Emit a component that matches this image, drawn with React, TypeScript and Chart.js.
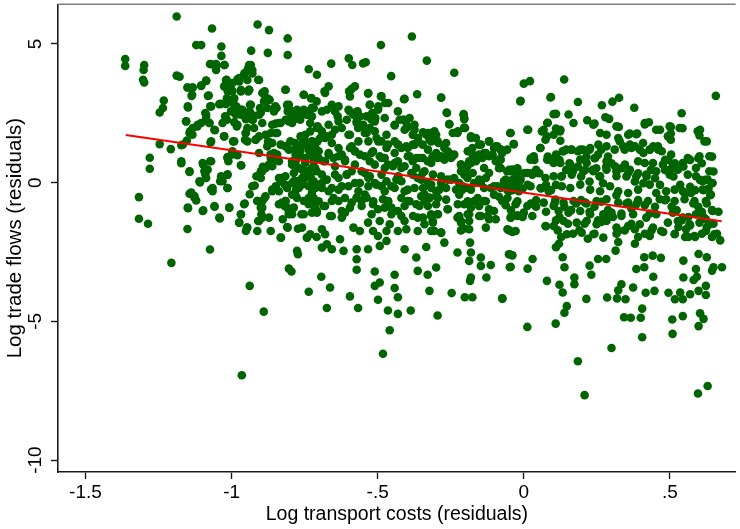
import React, { useEffect, useRef } from "react";
import { Chart, registerables } from "chart.js";

Chart.register(...registerables);

const X_TICKS = [-1.5, -1, -0.5, 0, 0.5];
const X_TICK_LABELS = ["-1.5", "-1", "-.5", "0", ".5"];
const Y_TICKS = [-10, -5, 0, 5];
const Y_TICK_LABELS = ["-10", "-5", "0", "5"];
const X_RANGE = [-1.594, 0.725];
const Y_RANGE = [-10.43, 6.43];
const X_TITLE = "Log transport costs (residuals)";
const Y_TITLE = "Log trade flows (residuals)";

// fitted line end points
const FIT_X = [-1.362, 0.677];
const FIT_Y = [1.72, -1.39];

// observations, west part (x < -0.7)
const WEST: [number, number][] = [
  [-1.188,5.99],[-1.067,5.56],[-1.121,4.96],[-1.104,4.96],[-1.035,4.91],[-1.364,4.46],[-1.364,4.21],[-1.299,4.24],
  [-1.301,4.06],[-1.303,3.71],[-1.299,3.61],[-1.188,3.86],[-1.035,4.57],[-1.074,4.28],[-1.053,4.28],[-1.053,4.06],
  [-1.024,4.24],[-0.933,4.76],[-0.911,5.70],[-0.872,5.50],[-0.808,5.20],[-0.808,4.60],[-0.876,4.68],[-0.736,4.09],
  [-1.232,2.96],[-1.235,2.69],[-1.246,2.53],[-1.246,1.39],[-1.208,1.21],[-1.280,0.90],[-1.280,0.50],[-1.317,-0.52],
  [-1.317,-1.30],[-1.286,-1.48],[-1.206,-2.89],[-1.074,-2.41],[-1.151,-1.67],[-0.938,-3.72],[-0.890,-4.65],[-0.736,-3.93],
  [-0.804,-3.10],[-0.795,-3.20],[-0.776,-2.46],[-0.773,-2.58],[-0.832,-1.98],[-0.742,-1.98],[-0.731,-1.86],[-0.965,-6.94],
  [-1.151,3.43],[-1.134,3.43],[-1.137,3.13],[-1.104,3.49],[-1.087,3.68],[-1.149,2.71],[-1.156,2.21],[-1.142,1.85],
  [-1.134,1.73],[-1.117,2.03],[-1.104,2.15],[-1.090,2.51],[-1.087,2.33],[-1.076,2.15],[-1.073,2.75],[-1.081,3.13],
  [-1.172,1.35],[-1.153,1.52],[-1.172,0.70],[-1.144,0.39],[-1.097,0.65],[-1.082,0.47],[-1.090,0.29],[-1.108,0.01],
  [-1.070,-0.24],[-1.065,-0.31],[-1.073,0.77],[-1.144,-0.40],[-1.127,-0.48],[-1.121,-0.64],[-1.149,-0.92],[-1.097,-1.00],
  [-1.058,-0.87],[-1.040,-1.29],[-1.008,-0.90],[-1.072,1.45],[-1.057,1.89],[-1.026,1.67],[-1.036,2.84],[-1.019,2.84],
  [-1.016,3.04],[-1.017,3.71],[-1.024,3.47],[-1.013,3.29],[-1.019,3.55],[-0.997,3.31],[-0.991,3.04],[-0.995,2.89],
  [-0.983,2.74],[-0.968,2.63],[-0.980,3.73],[-0.974,3.65],[-0.968,3.35],[-0.943,3.29],[-0.940,3.35],[-0.956,3.94],
  [-0.946,4.04],[-0.934,4.24],[-0.943,4.12],[-0.929,3.94],[-0.909,3.71],[-1.022,2.39],[-1.016,2.27],[-1.002,2.57],
  [-0.985,2.45],[-0.991,2.18],[-0.982,2.03],[-0.968,2.45],[-0.951,2.29],[-0.946,1.97],[-0.951,1.79],[-0.954,1.55],
  [-0.923,1.97],[-0.917,1.55],[-0.906,1.67],[-0.937,2.81],[-0.938,2.57],[-0.927,2.27],[-0.923,2.41],[-0.903,2.69],
  [-0.900,2.53],[-0.889,2.93],[-0.878,3.04],[-0.870,2.99],[-0.887,3.29],[-0.995,1.49],[-0.997,1.13],[-1.000,1.01],
  [-0.980,0.99],[-1.014,0.92],[-1.011,0.77],[-0.967,0.62],[-1.014,-0.19],[-1.039,0.05],[-1.033,0.09],[-1.014,0.29],
  [-0.921,-0.10],[-0.938,-0.42],[-0.955,-0.75],[-0.968,-1.14],[-0.974,-1.44],[-0.951,-1.74],[-0.948,-1.62],[-0.912,-1.74],
  [-0.909,-1.38],[-0.898,-1.14],[-0.895,-1.26],[-0.887,-0.55],[-0.866,-1.74],[-0.831,-1.98],[-0.912,-0.66],[-0.900,-0.90],
  [-0.895,-0.66],[-0.915,0.23],[-0.900,0.41],[-0.893,0.57],[-0.883,0.53],[-0.872,0.65],[-0.861,-0.31],[-0.855,-0.24],
  [-0.849,-0.13],[-0.832,0.05],[-0.827,0.17],[-0.819,-0.06],[-0.810,-0.19],[-0.815,-0.66],[-0.829,-0.73],[-0.819,-0.84],
  [-0.810,-0.90],[-0.825,-1.32],[-0.804,-1.14],[-0.787,0.05],[-0.776,0.05],[-0.779,-0.24],[-0.770,-0.19],[-0.759,0.17],
  [-0.757,0.05],[-0.793,0.65],[-0.781,0.77],[-0.770,0.53],[-0.759,0.47],[-0.866,0.89],[-0.861,0.77],[-0.849,0.89],
  [-0.844,1.01],[-0.855,1.07],[-0.878,1.31],[-0.875,1.49],[-0.866,1.79],[-0.849,1.79],[-0.832,1.37],[-0.815,1.31],
  [-0.804,1.19],[-0.861,2.09],[-0.849,2.13],[-0.832,2.15],[-0.815,2.27],[-0.798,2.33],[-0.808,2.57],[-0.808,2.75],
  [-0.793,2.57],[-0.781,2.51],[-0.815,3.35],[-0.846,2.69],[-0.852,2.71],[-0.770,2.39],[-0.753,2.51],[-0.742,2.45],
  [-0.736,2.57],[-0.725,2.69],[-0.725,2.39],[-0.753,3.17],[-0.728,3.04],[-0.764,1.67],[-0.753,1.55],[-0.759,1.37],
  [-0.742,1.37],[-0.725,1.49],[-0.713,1.25],[-0.764,1.25],[-0.781,1.01],[-0.770,1.01],[-0.747,0.89],[-0.730,1.01],
  [-0.719,0.77],[-0.713,0.95],[-0.725,0.53],[-0.742,0.41],[-0.730,0.23],[-0.719,0.05],[-0.713,-0.19],[-0.725,-0.37],
  [-0.719,-0.55],[-0.736,-0.78],[-0.725,-1.08],[-0.708,-1.02],[-0.776,-0.55],[-0.753,-0.66],[-0.709,0.41],[-0.706,1.49],
  [-0.706,2.03],[-0.709,2.93],[-0.773,-1.66],[-0.808,-1.62],[-0.709,-1.96],[-0.708,3.89],
];

// extra observations read in the dense west core (-1.18 < x < -0.77)
const WEST_CORE: [number, number][] = [
  [-1.070,4.27],[-1.053,4.18],[-1.025,4.24],[-0.940,4.24],[-0.929,4.06],[-0.957,3.88],[-1.178,3.82],[-1.150,3.43],
  [-1.133,3.43],[-1.104,3.50],[-1.087,3.67],[-1.019,3.70],[-0.997,3.59],[-0.974,3.77],[-0.946,3.70],[-0.906,3.70],
  [-0.940,3.35],[-0.968,3.29],[-1.002,3.35],[-1.025,3.47],[-1.135,3.17],[-1.078,3.14],[-1.150,2.75],[-1.070,2.75],
  [-1.042,2.83],[-1.019,2.87],[-0.991,2.81],[-0.963,2.63],[-0.934,2.81],[-0.895,3.23],[-0.884,3.05],[-0.872,2.99],
  [-0.816,3.35],[-0.850,2.75],[-0.810,2.81],[-0.776,2.63],[-1.155,2.21],[-1.133,1.97],[-1.116,2.09],[-1.087,2.45],
  [-1.076,2.15],[-1.059,1.91],[-1.031,2.15],[-0.997,2.57],[-0.980,2.09],[-0.952,2.39],[-0.929,2.27],[-0.906,2.45],
  [-0.895,2.15],[-0.878,2.69],[-0.855,2.57],[-0.838,2.15],[-0.804,2.21],[-0.787,2.27],[-0.770,2.45],[-1.144,1.79],
  [-1.167,1.37],[-1.070,1.49],[-1.025,1.67],[-0.991,1.49],[-0.952,1.79],[-0.946,1.49],[-0.918,1.55],[-0.884,1.73],
  [-0.844,1.79],[-0.861,1.43],[-0.816,1.31],[-0.782,1.43],[-1.172,0.77],[-1.099,0.71],[-1.070,0.77],[-1.014,0.89],
  [-0.968,0.63],[-0.906,1.07],[-0.867,1.01],[-0.838,0.77],[-0.793,0.77],[-0.776,0.89],[-1.144,0.41],[-1.093,0.41],
  [-1.087,0.17],[-1.110,0.05],[-1.036,0.23],[-1.014,0.29],[-1.031,0.05],[-0.895,0.41],[-0.861,0.59],[-0.900,0.17],
  [-0.838,0.17],[-0.816,0.23],[-0.782,0.05],[-1.138,-0.36],[-1.127,-0.54],[-1.065,-0.19],[-1.014,-0.19],[-0.929,-0.13],
  [-0.884,-0.49],[-0.861,-0.25],[-0.838,-0.31],[-0.816,-0.66],[-0.793,-0.43],[-0.787,-0.90],[-1.150,-0.90],[-1.099,-1.02],
  [-1.059,-0.84],[-1.008,-0.90],[-0.968,-1.14],[-0.957,-0.78],[-0.912,-0.66],[-0.895,-0.90],[-0.838,-0.78],[-0.804,-1.08],
  [-0.974,-1.44],[-1.042,-1.26],[-0.946,-1.62],[-0.906,-1.38],[-0.872,-1.26],[-0.810,-1.60],
];

// observations, centre part (-0.77 < x < 0)
const CENTRE: [number, number][] = [
  [-0.383,5.27],[-0.489,4.96],[-0.599,4.48],[-0.587,4.24],[-0.550,4.30],[-0.541,4.34],[-0.659,4.29],[-0.454,3.84],
  [-0.332,4.40],[-0.238,3.96],[-0.682,3.29],[-0.668,3.47],[-0.598,3.29],[-0.589,3.38],[-0.578,3.47],[-0.533,3.21],
  [-0.527,2.81],[-0.489,3.11],[-0.474,2.87],[-0.410,3.01],[-0.365,3.19],[-0.283,3.06],[-0.499,2.63],[-0.508,2.33],
  [-0.521,2.27],[-0.431,2.57],[-0.410,2.27],[-0.408,1.91],[-0.264,2.53],[-0.255,2.11],[-0.206,2.45],[-0.204,2.29],
  [-0.201,1.97],
  [-0.767,2.39],[-0.753,2.57],[-0.742,2.45],[-0.725,2.69],[-0.674,2.63],[-0.646,2.57],[-0.637,2.39],[-0.600,2.63],
  [-0.583,2.45],[-0.569,2.57],[-0.538,2.39],[-0.519,2.51],[-0.499,2.66],[-0.442,2.06],[-0.425,2.27],[-0.404,2.21],
  [-0.397,2.03],[-0.374,1.91],[-0.380,1.73],[-0.329,1.79],[-0.306,1.85],[-0.312,1.61],
  [-0.748,1.73],[-0.753,1.49],[-0.731,1.85],[-0.708,1.97],[-0.691,1.85],[-0.680,1.61],[-0.657,1.73],[-0.646,1.91],
  [-0.623,1.97],[-0.600,1.73],[-0.589,1.31],[-0.572,2.21],[-0.567,1.97],[-0.550,2.09],[-0.538,1.79],[-0.527,1.97],
  [-0.510,1.85],[-0.504,1.61],[-0.487,1.49],[-0.470,1.73],[-0.465,1.37],[-0.442,1.49],[-0.431,1.37],[-0.419,1.25],
  [-0.397,1.25],[-0.380,1.37],[-0.363,1.49],[-0.346,1.37],[-0.334,1.73],[-0.323,1.55],[-0.295,1.49],[-0.272,1.25],
  [-0.261,1.13],[-0.238,1.01],[-0.227,1.79],[-0.204,1.97],[-0.181,1.61],[-0.176,1.25],[-0.153,1.37],[-0.136,1.07],
  [-0.119,1.49],[-0.102,1.25],[-0.091,1.31],[-0.074,1.07],[-0.057,1.19],
  [-0.765,1.13],[-0.748,0.89],[-0.731,1.01],[-0.714,1.25],[-0.702,0.89],[-0.685,0.77],[-0.668,1.07],[-0.651,0.89],
  [-0.634,0.95],[-0.612,0.77],[-0.595,1.25],[-0.578,1.13],[-0.561,1.01],[-0.544,0.95],[-0.527,0.77],[-0.516,1.13],
  [-0.493,0.95],[-0.476,0.89],[-0.465,0.65],[-0.448,0.59],[-0.431,0.77],[-0.419,0.53],[-0.397,0.95],[-0.380,0.77],
  [-0.368,0.89],[-0.346,0.89],[-0.329,0.77],[-0.312,0.95],[-0.295,0.89],[-0.278,0.89],[-0.255,1.01],[-0.244,0.95],
  [-0.215,0.65],[-0.193,0.59],[-0.181,0.71],[-0.159,0.95],[-0.142,0.89],[-0.119,0.95],[-0.096,0.77],[-0.079,0.83],
  [-0.057,0.41],[-0.040,0.47],[-0.028,0.29],[-0.204,0.29],[-0.193,0.17],
  [-0.765,0.05],[-0.748,0.17],[-0.736,-0.13],[-0.725,-0.01],[-0.708,-0.07],[-0.691,-0.19],[-0.674,0.11],[-0.657,-0.19],
  [-0.634,0.17],[-0.623,-0.13],[-0.606,0.29],[-0.589,0.41],[-0.578,-0.01],[-0.561,-0.01],[-0.544,0.35],[-0.527,0.23],
  [-0.510,-0.01],[-0.487,-0.13],[-0.470,0.05],[-0.453,-0.13],[-0.436,0.11],[-0.419,0.05],[-0.397,-0.25],[-0.380,0.29],
  [-0.363,0.17],[-0.346,0.35],[-0.329,-0.01],[-0.317,-0.19],[-0.300,-0.31],[-0.283,-0.01],[-0.261,0.11],[-0.238,0.17],
  [-0.221,-0.01],[-0.210,-0.25],[-0.181,-0.25],[-0.164,-0.01],[-0.136,-0.19],[-0.113,-0.19],[-0.091,-0.13],[-0.068,0.05],
  [-0.045,-0.13],[-0.028,-0.01],[-0.340,-0.42],[-0.323,-0.54],[-0.300,-0.48],
  [-0.748,-0.66],[-0.725,-0.78],[-0.708,-1.08],[-0.685,-0.84],[-0.663,-1.20],[-0.657,-0.66],[-0.634,-0.66],[-0.612,-1.08],
  [-0.589,-0.72],[-0.572,-0.54],[-0.555,-0.66],[-0.538,-0.54],[-0.516,-0.78],[-0.499,-0.96],[-0.493,-1.38],[-0.482,-0.60],
  [-0.465,-0.66],[-0.453,-0.90],[-0.431,-1.02],[-0.419,-1.20],[-0.408,-1.38],[-0.397,-0.66],[-0.368,-0.78],[-0.363,-1.26],
  [-0.340,-0.66],[-0.317,-1.14],[-0.312,-1.38],[-0.295,-1.14],[-0.261,-0.96],[-0.227,-1.26],[-0.215,-1.38],[-0.204,-0.78],
  [-0.187,-1.14],[-0.170,-0.66],[-0.147,-1.20],[-0.136,-0.66],[-0.119,-1.32],[-0.102,-1.02],[-0.074,-0.66],[-0.045,-1.26],
  [-0.028,-0.78],[-0.761,-1.14],[-0.759,-1.62],[-0.691,-1.68],[-0.680,-1.86],[-0.623,-1.26],[-0.583,-1.62],[-0.561,-1.74],
  [-0.533,-1.44],[-0.516,-1.74],[-0.499,-1.92],[-0.470,-1.74],[-0.459,-1.50],[-0.431,-1.74],[-0.402,-1.68],[-0.363,-1.74],
  [-0.306,-1.74],[-0.283,-1.80],
  [-0.742,-1.98],[-0.691,-2.34],[-0.674,-2.22],[-0.657,-2.40],[-0.629,-2.04],[-0.617,-2.46],[-0.572,-2.40],[-0.533,-2.40],
  [-0.493,-2.28],[-0.470,-2.10],[-0.408,-2.40],[-0.368,-2.70],[-0.334,-2.32],[-0.272,-2.16],[-0.227,-2.52],[-0.184,-2.16],
  [-0.187,-2.82],[-0.147,-2.70],[-0.181,-2.52],[-0.113,-2.97],[-0.147,-3.00],[-0.051,-2.58],[-0.045,-3.03],[-0.572,-2.76],
  [-0.572,-3.14],[-0.510,-3.20],[-0.442,-3.32],[-0.510,-3.72],[-0.493,-3.60],[-0.442,-3.80],[-0.431,-4.13],[-0.499,-4.22],
  [-0.465,-4.61],[-0.431,-4.73],[-0.387,-4.61],[-0.459,-5.32],[-0.482,-6.17],[-0.323,-3.90],[-0.329,-3.32],[-0.300,-3.06],
  [-0.295,-4.79],[-0.247,-3.98],[-0.202,-4.13],[-0.176,-4.13],[-0.184,-3.54],[-0.181,-3.42],[-0.128,-3.42],[-0.074,-4.17],
  [-0.595,-4.10],[-0.567,-4.52],[-0.674,-4.52],[-0.663,-3.78],[-0.693,-3.39],[-0.363,-3.18],
];

// extra observations read in the dense centre-left core (-0.81 < x < -0.36)
const CENTRE_CORE: [number, number][] = [
  [-0.753,3.17],[-0.727,3.05],[-0.680,3.23],[-0.595,3.11],[-0.532,3.23],[-0.487,3.11],[-0.408,3.02],[-0.804,2.81],
  [-0.782,2.45],[-0.753,2.63],[-0.719,2.69],[-0.691,2.57],[-0.657,2.81],[-0.634,2.75],[-0.595,2.57],[-0.561,2.39],
  [-0.527,2.81],[-0.498,2.75],[-0.464,2.87],[-0.413,2.27],[-0.391,2.33],[-0.374,2.09],[-0.793,2.15],[-0.765,2.27],
  [-0.731,2.15],[-0.702,1.97],[-0.668,2.09],[-0.634,2.21],[-0.606,2.27],[-0.572,2.15],[-0.544,1.97],[-0.510,2.21],
  [-0.476,2.33],[-0.442,2.09],[-0.402,1.97],[-0.379,1.73],[-0.544,1.79],[-0.799,1.49],[-0.782,1.19],[-0.753,1.61],
  [-0.725,1.49],[-0.697,1.61],[-0.674,1.67],[-0.657,1.43],[-0.634,1.25],[-0.595,1.73],[-0.566,1.49],[-0.532,1.49],
  [-0.498,1.49],[-0.470,1.25],[-0.430,1.37],[-0.402,1.31],[-0.374,1.37],[-0.736,1.19],[-0.702,1.13],[-0.668,1.01],
  [-0.623,1.01],[-0.578,1.13],[-0.521,1.07],[-0.487,0.89],[-0.442,1.07],[-0.391,0.95],[-0.782,0.65],[-0.748,0.71],
  [-0.714,0.53],[-0.680,0.77],[-0.646,0.59],[-0.612,0.83],[-0.578,0.65],[-0.555,0.41],[-0.510,0.65],[-0.476,0.53],
  [-0.442,0.71],[-0.408,0.59],[-0.368,0.53],[-0.787,0.35],[-0.736,0.23],[-0.691,0.29],[-0.646,0.29],[-0.606,0.29],
  [-0.532,0.17],[-0.487,0.29],[-0.430,0.23],[-0.385,0.35],[-0.793,-0.01],[-0.759,-0.07],[-0.725,-0.19],[-0.691,-0.01],
  [-0.668,-0.31],[-0.634,-0.25],[-0.600,-0.13],[-0.566,-0.31],[-0.532,-0.13],[-0.504,-0.07],[-0.476,-0.31],[-0.442,-0.19],
  [-0.408,-0.31],[-0.374,-0.19],[-0.782,-0.43],[-0.736,-0.55],[-0.702,-0.67],[-0.651,-0.55],[-0.612,-0.55],[-0.572,-0.55],
  [-0.544,-0.43],[-0.515,-0.67],[-0.464,-0.67],[-0.419,-0.55],[-0.391,-0.67],[-0.793,-1.14],[-0.753,-1.14],[-0.714,-0.90],
  [-0.680,-0.84],[-0.657,-1.20],[-0.623,-1.02],[-0.595,-0.90],[-0.555,-0.84],[-0.521,-1.14],[-0.476,-0.90],[-0.453,-1.14],
  [-0.408,-0.84],[-0.379,-1.20],
];

// extra observations read in the centre-right band (-0.36 < x < 0.11)
const MIDDLE_CORE: [number, number][] = [
  [-0.283,3.07],[-0.011,2.95],[0.091,3.07],[-0.263,2.51],[-0.206,2.47],[-0.204,2.33],[-0.255,2.11],[-0.204,1.99],
  [0.102,2.47],[0.080,2.15],[0.012,1.91],[-0.045,1.79],[-0.034,1.39],[-0.345,1.82],[-0.317,1.79],[-0.300,1.73],
  [-0.362,1.61],[-0.317,1.49],[-0.292,1.43],[-0.266,1.43],[-0.243,1.79],[-0.226,1.85],[-0.181,1.67],[-0.164,1.61],
  [-0.147,1.37],[-0.119,1.49],[-0.096,1.31],[-0.079,1.19],[0.062,1.85],[0.074,1.55],[0.057,1.25],[0.102,1.73],
  [-0.328,1.19],[-0.300,1.07],[-0.283,0.95],[-0.255,1.07],[-0.249,0.89],[-0.192,1.13],[-0.175,1.01],[-0.153,1.01],
  [-0.130,1.07],[-0.107,1.01],[-0.357,0.89],[-0.317,0.71],[-0.272,0.83],[-0.215,0.65],[-0.187,0.77],[-0.164,0.77],
  [-0.136,0.53],[-0.085,0.83],[-0.079,0.53],[0.023,0.83],[0.034,0.95],[0.080,0.83],[0.102,0.71],[-0.340,0.41],
  [-0.311,0.29],[-0.283,0.23],[-0.249,0.11],[-0.215,0.41],[-0.198,0.35],[-0.175,0.35],[-0.153,0.11],[-0.130,0.17],
  [-0.119,0.35],[-0.062,0.11],[-0.045,0.41],[-0.022,0.41],[-0.034,0.05],[-0.011,0.11],[0.012,0.35],[0.029,0.29],
  [0.046,0.35],[0.074,0.17],[0.102,0.23],[-0.351,0.11],[-0.345,-0.19],[-0.317,-0.07],[-0.289,-0.25],[-0.266,-0.19],
  [-0.232,-0.25],[-0.209,-0.13],[-0.192,-0.19],[-0.170,-0.01],[-0.147,-0.01],[-0.102,-0.13],[-0.079,-0.19],[-0.051,-0.31],
  [-0.017,-0.31],[0.023,-0.13],[0.057,-0.19],[0.085,-0.31],[0.108,-0.61],[-0.351,-0.49],[-0.323,-0.55],[-0.294,-0.55],
  [-0.266,-0.61],[-0.221,-0.43],[-0.192,-0.67],[-0.158,-0.55],[-0.130,-0.67],[-0.102,-0.43],[-0.056,-0.55],[-0.022,-0.67],
  [0.012,-0.84],[0.040,-0.84],[0.068,-0.72],[0.102,-0.84],[-0.357,-0.84],[-0.328,-0.84],[-0.300,-0.78],[-0.260,-0.96],
  [-0.226,-0.78],[-0.181,-0.90],[-0.153,-0.84],[-0.119,-0.96],[-0.345,-1.26],[-0.317,-1.20],[-0.294,-1.14],[-0.221,-1.20],
  [-0.192,-1.14],[-0.187,-1.38],[-0.153,-1.20],[-0.124,-1.20],[-0.096,-1.32],[-0.045,-1.26],[-0.022,-1.20],[0.000,-1.08],
  [0.029,-1.20],[-0.340,-1.50],[-0.311,-1.44],[-0.215,-1.44],[-0.204,-1.65],[-0.130,-1.62],[-0.056,-1.68],[-0.028,-1.74],
  [0.074,-1.56],[0.102,-1.56],[-0.317,-1.74],[-0.283,-1.80],[-0.215,-1.72],[-0.187,-1.68],
];

// observations, east part (x > -0.09)
const EAST: [number, number][] = [
  [0.000,3.57],[0.021,3.66],[0.138,3.72],[-0.012,2.93],[0.093,3.09],[0.185,2.91],[0.657,3.13],[0.267,2.79],
  [0.303,2.92],[0.326,3.06],[0.378,2.70],[0.540,2.50],[0.110,2.48],[0.153,2.46],[0.217,2.25],[0.242,2.13],
  [0.279,2.36],[0.292,2.30],[0.015,1.91],[-0.047,1.79],[-0.035,1.39],[0.082,2.16],[0.068,1.91],[0.079,1.67],
  [0.110,1.95],[0.124,1.85],[0.125,1.51],[0.325,2.01],[0.363,1.77],[0.388,1.77],[0.414,2.10],[0.428,2.18],
  [0.466,1.91],[0.503,2.01],[0.503,1.77],[0.503,1.55],[0.543,1.96],[0.603,1.91],[0.601,1.70],[0.626,1.49],
  [0.056,1.25],[0.024,0.88],[0.036,0.82],
  [-0.079,1.19],[-0.085,0.52],[-0.050,0.46],[-0.022,0.52],[-0.039,0.10],[-0.016,0.04],[0.001,0.34],[0.013,-0.08],
  [0.024,0.34],[0.042,0.46],[0.053,0.34],[0.082,0.94],[0.093,0.82],[0.110,1.01],[0.122,0.82],[0.133,1.13],
  [0.145,1.19],[0.162,1.19],[0.185,1.13],[0.202,1.19],[0.214,0.94],[0.225,1.19],[0.242,0.88],[0.254,1.01],
  [0.265,1.19],[0.288,0.94],[0.311,1.19],[0.328,1.49],[0.345,1.19],[0.363,1.37],[0.380,1.31],[0.397,1.19],
  [0.409,1.07],[0.431,1.19],[0.443,1.31],[0.460,1.19],[0.472,1.13],[0.483,0.82],[0.495,0.82],[0.517,0.70],
  [0.546,0.58],[0.569,0.82],[0.597,0.88],[0.609,0.70],[0.644,0.94],[0.621,0.10],[0.644,-0.02],[0.649,0.40],
  [-0.067,-0.08],[-0.056,-0.27],[-0.039,-0.27],[-0.022,-0.08],[-0.004,-0.21],[0.042,-0.63],[0.059,-0.21],[0.076,-0.08],
  [0.093,-0.27],[0.110,-0.08],[0.128,0.22],[0.145,0.46],[0.156,0.70],[0.168,0.40],[0.185,0.58],[0.196,0.22],
  [0.210,0.46],[0.225,0.04],[0.236,0.46],[0.248,0.52],[0.259,0.22],[0.271,-0.02],[0.282,0.58],[0.300,0.70],
  [0.317,0.40],[0.334,0.52],[0.351,0.22],[0.363,0.46],[0.380,0.04],[0.391,0.34],[0.409,-0.02],[0.420,0.22],
  [0.435,0.46],[0.449,0.16],[0.466,-0.08],[0.483,0.46],[0.500,0.46],[0.512,0.22],[0.535,-0.08],[0.552,-0.39],
  [0.569,-0.15],[0.586,-0.27],[0.603,0.10],[0.615,-0.27],[0.638,-0.45],[0.632,-0.21],
  [-0.085,-0.51],[-0.062,-0.81],[-0.044,-0.99],[-0.027,-0.75],[-0.022,-1.18],[-0.004,-1.24],[0.024,-0.75],[0.042,-0.87],
  [0.076,-1.05],[0.105,-0.75],[0.122,-1.24],[0.139,-0.87],[0.162,-0.99],[0.179,-0.75],[0.196,-0.63],[0.214,-0.75],
  [0.225,-1.05],[0.242,-0.87],[0.265,-0.69],[0.288,-0.99],[0.305,-1.24],[0.317,-0.45],[0.334,-1.11],[0.351,-0.75],
  [0.368,-0.93],[0.391,-0.63],[0.414,-0.81],[0.431,-1.11],[0.449,-0.87],[0.483,-0.63],[0.506,-0.87],[0.523,-0.99],
  [0.540,-1.36],[0.563,-1.24],[0.580,-0.75],[0.597,-0.87],[0.609,-1.05],[0.626,-0.75],[0.644,-0.99],[0.666,-1.05],
  [0.615,-1.24],
  [-0.050,-1.72],[-0.039,-1.78],[0.076,-1.57],[0.110,-1.36],[0.116,-1.72],[0.128,-1.96],[0.151,-1.48],[0.168,-1.84],
  [0.190,-1.72],[0.208,-1.48],[0.219,-2.02],[0.242,-1.84],[0.254,-1.36],[0.265,-1.42],[0.282,-1.24],[0.317,-1.84],
  [0.323,-2.14],[0.345,-1.72],[0.368,-1.48],[0.380,-2.20],[0.391,-1.96],[0.414,-1.84],[0.437,-1.72],[0.477,-1.78],
  [0.517,-1.84],[0.529,-1.60],[0.552,-1.96],[0.569,-1.54],[0.586,-1.96],[0.609,-1.84],[0.626,-1.60],[0.644,-1.96],
  [0.661,-1.84],[0.672,-2.08],[0.649,-1.48],
  [-0.047,-2.59],[-0.039,-2.62],[-0.048,-3.05],[0.013,-3.10],[0.030,-2.75],[0.079,-3.54],[0.110,-2.33],[0.120,-2.20],
  [0.133,-2.69],[0.139,-3.05],[0.122,-3.68],[0.133,-3.96],[0.173,-3.42],[0.173,-3.66],[0.225,-2.99],[0.231,-3.32],
  [0.254,-2.75],[0.282,-2.75],[0.314,-2.45],[0.334,-3.66],[0.323,-3.88],[0.348,-4.20],[0.374,-3.78],[0.385,-3.11],
  [0.412,-3.05],[0.412,-2.69],[0.441,-2.63],[0.469,-2.71],[0.443,-3.39],[0.417,-3.97],[0.447,-3.90],[0.495,-3.97],
  [0.517,-4.20],[0.535,-3.96],[0.544,-4.20],[0.569,-4.02],[0.589,-3.11],[0.592,-3.39],[0.581,-3.51],[0.598,-3.90],
  [0.623,-3.72],[0.623,-4.05],[0.644,-3.17],[0.649,-3.05],[0.678,-3.05],[0.546,-2.81],[0.546,-3.42],[0.598,-2.57],
  [0.626,-2.69],[0.563,-1.96],
  [0.012,-5.20],[0.109,-5.08],[0.147,-4.45],[0.139,-4.69],[0.214,-4.19],[0.285,-4.14],[0.319,-4.17],[0.343,-4.85],
  [0.366,-4.87],[0.400,-4.87],[0.405,-4.54],[0.405,-5.57],[0.300,-5.96],[0.185,-6.44],[0.208,-7.66],[0.509,-5.45],
  [0.508,-4.93],[0.544,-4.81],[0.603,-4.71],[0.615,-4.91],[0.598,-5.17],[0.596,-7.60],[0.629,-7.33],[-0.073,-4.18],
];

// extra observations read in the dense east core (0.11 < x < 0.66)
const EAST_CORE: [number, number][] = [
  [0.125,1.91],[0.170,2.15],[0.238,2.09],[0.261,1.79],[0.283,1.73],[0.317,2.03],[0.357,1.73],[0.385,1.75],
  [0.414,2.15],[0.453,1.91],[0.499,2.03],[0.533,1.97],[0.493,1.67],[0.595,1.85],[0.618,1.49],[0.136,1.13],
  [0.164,1.19],[0.193,1.19],[0.227,1.25],[0.255,1.37],[0.283,1.31],[0.323,1.61],[0.340,1.31],[0.368,1.25],
  [0.408,1.43],[0.431,1.19],[0.459,1.31],[0.504,1.01],[0.561,0.89],[0.601,0.95],[0.635,0.95],[0.125,0.71],
  [0.159,0.65],[0.193,0.83],[0.215,0.71],[0.244,0.89],[0.283,0.77],[0.312,0.59],[0.346,0.65],[0.391,0.77],
  [0.414,0.71],[0.442,0.71],[0.476,0.65],[0.510,0.65],[0.544,0.71],[0.567,0.83],[0.589,0.53],[0.635,0.41],
  [0.612,0.05],[0.130,0.23],[0.164,0.29],[0.204,0.41],[0.238,0.41],[0.261,0.23],[0.283,0.47],[0.317,0.23],
  [0.357,0.35],[0.385,0.23],[0.419,0.29],[0.453,0.41],[0.499,0.29],[0.527,0.47],[0.561,0.29],[0.589,0.23],
  [0.629,0.11],[0.646,-0.01],[0.130,-0.13],[0.159,-0.19],[0.193,-0.07],[0.227,-0.25],[0.261,-0.31],[0.295,-0.13],
  [0.323,-0.31],[0.357,-0.37],[0.391,-0.25],[0.431,-0.07],[0.453,-0.37],[0.487,-0.31],[0.516,-0.25],[0.544,-0.31],
  [0.572,-0.37],[0.612,-0.25],[0.640,-0.43],[0.136,-0.72],[0.170,-0.66],[0.210,-0.72],[0.249,-0.66],[0.283,-0.60],
  [0.323,-0.72],[0.357,-0.72],[0.385,-0.78],[0.425,-0.66],[0.465,-0.60],[0.487,-0.60],[0.516,-0.66],[0.550,-0.60],
  [0.584,-0.66],[0.623,-0.66],[0.119,-1.02],[0.153,-1.08],[0.193,-1.02],[0.227,-1.14],[0.272,-1.14],[0.300,-1.08],
  [0.334,-1.20],[0.374,-1.14],[0.419,-1.26],[0.453,-1.14],[0.510,-1.08],[0.544,-1.26],[0.589,-1.14],[0.623,-1.32],
  [0.646,-1.02],[0.136,-1.38],[0.181,-1.44],[0.215,-1.38],[0.249,-1.50],[0.283,-1.38],[0.317,-1.62],[0.357,-1.56],
  [0.397,-1.50],[0.442,-1.62],[0.493,-1.44],[0.527,-1.38],[0.567,-1.50],[0.601,-1.44],[0.635,-1.50],[0.147,-1.86],
  [0.198,-1.80],[0.238,-1.86],[0.272,-1.98],[0.323,-1.74],[0.380,-1.68],[0.431,-1.92],[0.470,-1.74],[0.516,-1.86],
  [0.555,-1.68],[0.584,-1.92],[0.623,-1.74],[0.652,-1.86],
];

const FONT_FAMILY = "'Liberation Sans', Arial, Helvetica, sans-serif";
const AXIS_COLOR = "#1a1a1a";

const topBorder = {
  id: "topBorder",
  afterDraw(chart: any) {
    const { ctx, chartArea } = chart;
    ctx.save();
    ctx.strokeStyle = "#7d7d7d";
    ctx.lineWidth = 1.5;
    ctx.beginPath();
    ctx.moveTo(chartArea.left, chartArea.top);
    ctx.lineTo(chartArea.right, chartArea.top);
    ctx.stroke();
    ctx.restore();
  },
};

export default function App() {
  const canvasRef = useRef<HTMLCanvasElement | null>(null);

  useEffect(() => {
    const canvas = canvasRef.current;
    if (!canvas) return;
    const points = [...WEST, ...WEST_CORE, ...CENTRE, ...CENTRE_CORE, ...MIDDLE_CORE, ...EAST, ...EAST_CORE].map(
      ([x, y]) => ({ x, y })
    );
    const fit = FIT_X.map((x, i) => ({ x, y: FIT_Y[i] }));

    const chart = new Chart(canvas, {
      type: "scatter",
      data: {
        datasets: [
          {
            type: "line",
            data: fit,
            borderColor: "#ff0000",
            borderWidth: 2,
            pointRadius: 0,
            fill: false,
            order: 0,
          } as any,
          {
            type: "scatter",
            data: points,
            backgroundColor: "#006400",
            borderWidth: 0,
            pointRadius: 4.3,
            pointHoverRadius: 4.3,
            order: 1,
          } as any,
        ],
      },
      options: {
        responsive: false,
        animation: false,
        layout: { padding: { top: 3, left: 0, right: 0, bottom: 0 } },
        plugins: {
          legend: { display: false },
          tooltip: { enabled: false },
        },
        scales: {
          x: {
            type: "linear",
            min: X_RANGE[0],
            max: X_RANGE[1],
            afterBuildTicks: (s: any) => {
              s.ticks = X_TICKS.map((v) => ({ value: v }));
            },
            afterFit: (s: any) => {
              s.height = 57;
              s.paddingLeft = 0;
              s.paddingRight = 0;
            },
            ticks: {
              autoSkip: false,
              maxRotation: 0,
              minRotation: 0,
              padding: 2,
              color: "#000",
              font: { family: FONT_FAMILY, size: 19 },
              callback: (v: any) => X_TICK_LABELS[X_TICKS.indexOf(Number(v))] ?? "",
            },
            grid: {
              display: true,
              drawOnChartArea: false,
              drawTicks: true,
              tickLength: 7,
              tickColor: AXIS_COLOR,
              tickWidth: 1.4,
            },
            border: { display: true, color: AXIS_COLOR, width: 1.6 },
            title: {
              display: true,
              text: X_TITLE,
              color: "#000",
              font: { family: FONT_FAMILY, size: 19.5 },
              padding: { top: 0, bottom: 3 },
            },
          },
          y: {
            type: "linear",
            min: Y_RANGE[0],
            max: Y_RANGE[1],
            afterBuildTicks: (s: any) => {
              s.ticks = Y_TICKS.map((v) => ({ value: v }));
            },
            afterFit: (s: any) => {
              s.width = 58;
              s.paddingTop = 0;
              s.paddingBottom = 0;
            },
            ticks: {
              autoSkip: false,
              minRotation: 90,
              maxRotation: 90,
              crossAlign: "center",
              padding: 2,
              color: "#000",
              font: { family: FONT_FAMILY, size: 19 },
              callback: (v: any) => Y_TICK_LABELS[Y_TICKS.indexOf(Number(v))] ?? "",
            },
            grid: {
              display: true,
              drawOnChartArea: false,
              drawTicks: true,
              tickLength: 7,
              tickColor: AXIS_COLOR,
              tickWidth: 1.4,
            },
            border: { display: true, color: AXIS_COLOR, width: 1.6 },
            title: {
              display: true,
              text: Y_TITLE,
              color: "#000",
              font: { family: FONT_FAMILY, size: 20.5 },
              padding: { top: 3, bottom: 0 },
            },
          },
        },
      } as any,
      plugins: [topBorder],
    });

    return () => chart.destroy();
  }, []);

  return (
    <div style={{ position: "absolute", left: 0, top: 0, width: 740, height: 529, background: "#fff" }}>
      <canvas ref={canvasRef} width={740} height={529} style={{ display: "block" }} />
    </div>
  );
}
